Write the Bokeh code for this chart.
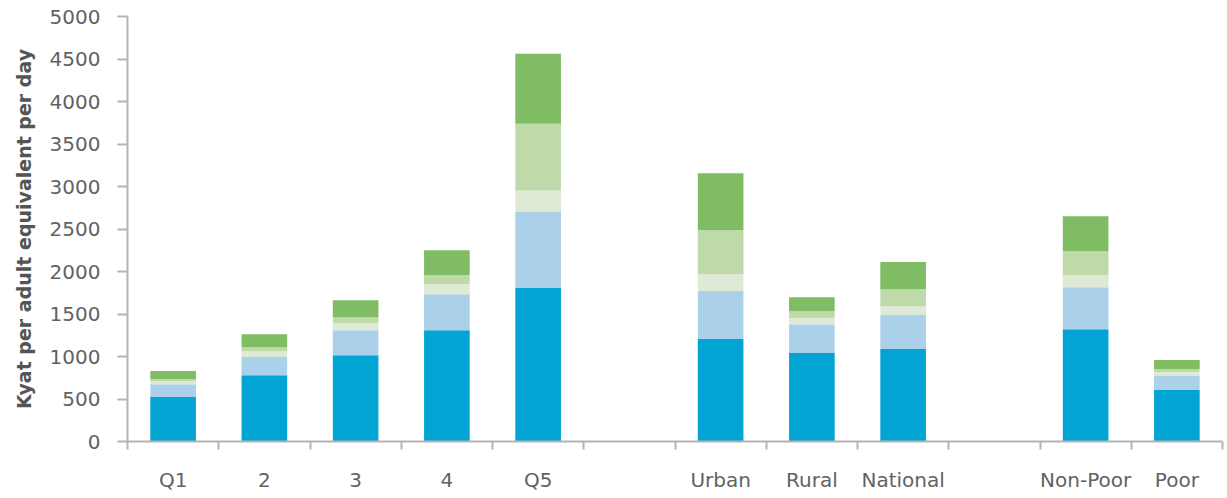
from bokeh.plotting import figure
from bokeh.models import FixedTicker, Range1d
from bokeh.embed import file_html
from bokeh.resources import INLINE

# slots along the x axis (blank entries are gaps between groups)
slots = ["Q1", "2", "3", "4", "Q5", "", "Urban", "Rural", "National", "", "Non-Poor", "Poor"]
groups = ["Q1", "2", "3", "4", "Q5", "Urban", "Rural", "National", "Non-Poor", "Poor"]

seg1 = [525, 780, 1015, 1310, 1805, 1205, 1040, 1087, 1322, 605]
seg2 = [150, 213, 295, 423, 900, 565, 340, 400, 493, 165]
seg3 = [35, 70, 82, 118, 247, 200, 70, 106, 141, 47]
seg4 = [25, 47, 71, 105, 786, 515, 82, 200, 282, 35]
seg5 = [95, 153, 200, 294, 824, 670, 165, 318, 412, 106]

series = ["seg1", "seg2", "seg3", "seg4", "seg5"]
colors = ["#02a4d3", "#abd1ea", "#deead5", "#bedaa9", "#7fbc64"]
y_ticks = list(range(0, 5001, 500))

centers = [slots.index(g) + 0.5 for g in groups]
data = dict(x=centers, seg1=seg1, seg2=seg2, seg3=seg3, seg4=seg4, seg5=seg5)

p = figure(width=1225, height=496, output_backend="svg", toolbar_location=None,
           x_range=Range1d(0, len(slots)), y_range=Range1d(0, 5000),
           min_border_left=127, min_border_right=3, min_border_top=16, min_border_bottom=55)

p.vbar_stack(series, x="x", width=0.5, color=colors, line_color=None, source=data)

p.xgrid.visible = False
p.ygrid.visible = False
p.outline_line_color = None
p.background_fill_color = "white"

axis_color = "#b3b3b3"
label_color = "#626262"

xa = p.xaxis[0]
xa.ticker = FixedTicker(ticks=centers, minor_ticks=list(range(len(slots) + 1)))
xa.major_label_overrides = {c: g for c, g in zip(centers, groups)}
xa.major_tick_line_color = None
xa.major_tick_out = 0
xa.major_tick_in = 0
xa.minor_tick_out = 8
xa.minor_tick_in = 0
xa.minor_tick_line_color = axis_color
xa.minor_tick_line_width = 2
xa.axis_line_color = axis_color
xa.axis_line_width = 2
xa.major_label_standoff = 18
xa.major_label_text_font = "DejaVu Sans"
xa.major_label_text_font_size = "20px"
xa.major_label_text_color = label_color

ya = p.yaxis[0]
ya.ticker = FixedTicker(ticks=y_ticks)
ya.minor_tick_line_color = None
ya.major_tick_out = 10
ya.major_tick_in = 0
ya.major_tick_line_color = axis_color
ya.major_tick_line_width = 2
ya.axis_line_color = axis_color
ya.axis_line_width = 2
ya.major_label_standoff = 17
ya.major_label_text_font = "DejaVu Sans"
ya.major_label_text_font_size = "20px"
ya.major_label_text_color = label_color
ya.axis_label = "Kyat per adult equivalent per day"
ya.axis_label_text_font = "DejaVu Sans"
ya.axis_label_text_font_style = "bold"
ya.axis_label_text_font_size = "19px"
ya.axis_label_text_color = "#555555"
ya.axis_label_standoff = 12

open("out.html", "w").write(file_html(p, INLINE))
